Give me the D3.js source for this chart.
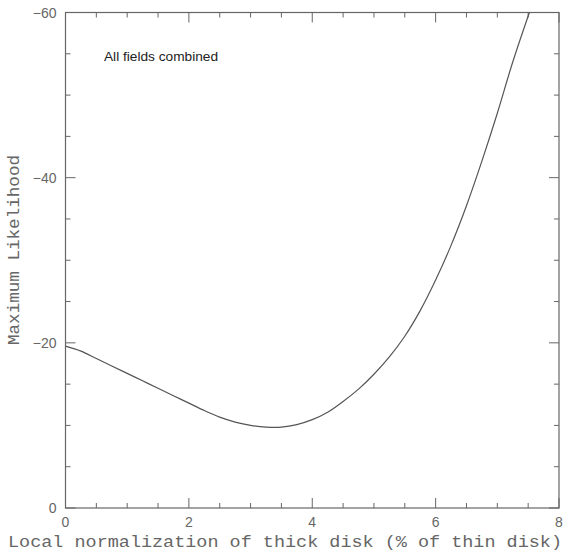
<!DOCTYPE html>
<html><head><meta charset="utf-8">
<script src="https://cdn.jsdelivr.net/npm/d3@7"></script>
<style>body{margin:0;background:#fff}</style>
</head><body>
<svg id="c" width="570" height="560"></svg>
<script>
const xVals = [0,0.25,0.5,0.75,1,1.25,1.5,1.75,2,2.25,2.5,2.75,3,3.25,3.5,3.75,4,4.25,4.5,4.75,5,5.25,5.5,5.75,6,6.25,6.5,6.75,7,7.25,7.52];
const likelihood = [-19.6,-19.0,-18.1,-17.2,-16.3,-15.4,-14.5,-13.6,-12.7,-11.8,-11.0,-10.4,-10.0,-9.8,-9.8,-10.1,-10.7,-11.6,-12.9,-14.4,-16.2,-18.3,-20.8,-23.9,-27.6,-31.8,-36.6,-42.0,-47.8,-54.0,-60];
const xTicks = [0,2,4,6,8];
const yTicks = [0,-20,-40,-60];
const xLabel = "Local normalization of thick disk (% of thin disk)";
const yLabel = "Maximum Likelihood";
const annotation = "All fields combined";

const svg = d3.select("#c");
const L=65.5, R=559, T=12.5, B=508;
const x = d3.scaleLinear().domain([0,8]).range([L,R]);
const y = d3.scaleLinear().domain([0,-60]).range([B,T]);
const col = "#666";
const g = svg.append("g");

g.append("rect").attr("x",L).attr("y",T).attr("width",R-L).attr("height",B-T)
 .attr("fill","none").attr("stroke",col).attr("stroke-width",1.2);

const xMinor = d3.range(0,8.01,0.5);
const yMinor = d3.range(0,-60.01,-5);
xMinor.forEach(v=>{
  const major = xTicks.includes(v);
  const len = major?10:5;
  g.append("line").attr("x1",x(v)).attr("x2",x(v)).attr("y1",B).attr("y2",B-len).attr("stroke",col);
  g.append("line").attr("x1",x(v)).attr("x2",x(v)).attr("y1",T).attr("y2",T+len).attr("stroke",col);
});
yMinor.forEach(v=>{
  const major = yTicks.includes(v);
  const len = major?10:5;
  g.append("line").attr("y1",y(v)).attr("y2",y(v)).attr("x1",L).attr("x2",L+len).attr("stroke",col);
  g.append("line").attr("y1",y(v)).attr("y2",y(v)).attr("x1",R).attr("x2",R-len).attr("stroke",col);
});

const tickFont = "'Liberation Sans', Arial, sans-serif";
const labFont = "'Liberation Mono', 'Courier New', monospace";
xTicks.forEach(v=>{
  g.append("text").attr("x",x(v)).attr("y",B+19).attr("text-anchor","middle")
   .attr("font-family",tickFont).attr("font-size",14).attr("fill","#666").text(v);
});
yTicks.forEach(v=>{
  g.append("text").attr("x",L-9).attr("y",y(v)+5).attr("text-anchor","end")
   .attr("font-family",tickFont).attr("font-size",14).attr("fill","#666").text(v===0?"0":"\u2212"+Math.abs(v));
});

g.append("text").attr("x",8).attr("y",547).attr("font-family",labFont).attr("font-size",16)
 .attr("fill","#666").attr("textLength",554).attr("lengthAdjust","spacingAndGlyphs").text(xLabel);
g.append("text").attr("transform","translate(19,250) rotate(-90)").attr("text-anchor","middle")
 .attr("font-family",labFont).attr("font-size",16).attr("fill","#666").attr("textLength",190)
 .attr("lengthAdjust","spacingAndGlyphs").text(yLabel);

g.append("text").attr("x",104).attr("y",61).attr("font-family","'Liberation Sans', Arial, sans-serif")
 .attr("font-size",13).attr("fill","#222").attr("textLength",114).attr("lengthAdjust","spacingAndGlyphs").text(annotation);

const line = d3.line().x((d,i)=>x(xVals[i])).y(d=>y(d)).curve(d3.curveCatmullRom);
g.append("path").datum(likelihood).attr("d",line).attr("fill","none").attr("stroke","#555").attr("stroke-width",1.2);
</script>
</body></html>
